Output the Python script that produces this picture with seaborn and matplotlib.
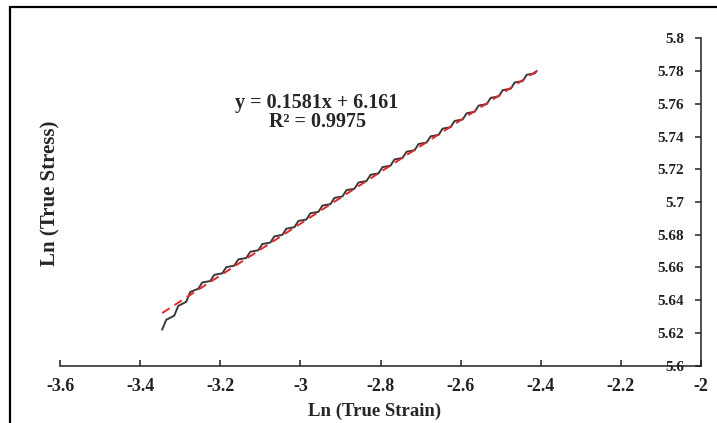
import numpy as np
import pandas as pd
import seaborn as sns
import matplotlib.pyplot as plt
from matplotlib.lines import Line2D

# --- Data (ln true strain vs ln true stress) ---
ln_strain = [
    -3.345, -3.335, -3.315, -3.305, -3.285, -3.275,
    -3.255, -3.245, -3.225, -3.215, -3.195, -3.185, -3.165, -3.155,
    -3.135, -3.125, -3.105, -3.095, -3.075, -3.065, -3.045, -3.035,
    -3.015, -3.005, -2.985, -2.975, -2.955, -2.945, -2.925, -2.915,
    -2.895, -2.885, -2.865, -2.855, -2.835, -2.825, -2.805, -2.795,
    -2.775, -2.765, -2.745, -2.735, -2.715, -2.705, -2.685, -2.675,
    -2.655, -2.645, -2.625, -2.615, -2.595, -2.585, -2.565, -2.555,
    -2.535, -2.525, -2.505, -2.495, -2.475, -2.465, -2.445, -2.435,
    -2.415, -2.410,
]
ln_stress = [
    5.6220, 5.6280, 5.6305, 5.6365, 5.6390, 5.6450,
    5.6470, 5.6508, 5.6517, 5.6555, 5.6564, 5.6602, 5.6611, 5.6649,
    5.6658, 5.6696, 5.6705, 5.6743, 5.6752, 5.6790, 5.6799, 5.6837,
    5.6846, 5.6884, 5.6893, 5.6931, 5.6940, 5.6978, 5.6987, 5.7025,
    5.7034, 5.7072, 5.7081, 5.7119, 5.7128, 5.7166, 5.7175, 5.7213,
    5.7222, 5.7260, 5.7269, 5.7307, 5.7316, 5.7354, 5.7363, 5.7401,
    5.7410, 5.7448, 5.7457, 5.7495, 5.7504, 5.7542, 5.7551, 5.7589,
    5.7598, 5.7636, 5.7645, 5.7683, 5.7692, 5.7730, 5.7739, 5.7777,
    5.7786, 5.7800,
]

# Linear trend line as printed on the chart
slope = 0.1581
intercept = 6.161
r2 = 0.9975

x_ticks = [-3.6, -3.4, -3.2, -3.0, -2.8, -2.6, -2.4, -2.2, -2.0]
x_tick_labels = ["-3.6", "-3.4", "-3.2", "-3", "-2.8", "-2.6", "-2.4", "-2.2", "-2"]
y_ticks = [5.60, 5.62, 5.64, 5.66, 5.68, 5.70, 5.72, 5.74, 5.76, 5.78, 5.80]
y_tick_labels = ["5.6", "5.62", "5.64", "5.66", "5.68", "5.7", "5.72", "5.74", "5.76", "5.78", "5.8"]

df = pd.DataFrame({"strain": ln_strain, "stress": ln_stress})
fit_x = np.array([min(ln_strain), max(ln_strain)])
fit_df = pd.DataFrame({"strain": fit_x, "stress": slope * fit_x + intercept})

# --- Plot ---
sns.set_theme(style="white")
plt.rcParams["font.family"] = ["Liberation Serif", "DejaVu Serif"]
plt.rcParams["font.weight"] = "bold"

fig = plt.figure(figsize=(7.17, 4.23), dpi=100)
ax = fig.add_axes([0.0837, 0.1355, 0.894, 0.774])

sns.lineplot(data=df, x="strain", y="stress", ax=ax, color="#3a3a3a",
             linewidth=1.4, sort=False)
sns.lineplot(data=fit_df, x="strain", y="stress", ax=ax, color="#e3262b",
             linewidth=1.4, linestyle=(0, (4.5, 3)))

ax.set_xlim(-3.6, -2.0)
ax.set_ylim(5.6, 5.8)
ax.set_xticks(x_ticks)
ax.set_xticklabels(x_tick_labels, fontsize=13, fontweight="bold")
ax.set_yticks(y_ticks)
ax.set_yticklabels(y_tick_labels, fontsize=13.5, fontweight="bold")

# y axis sits at x = -2 (right edge), labels on its left
ax.spines["left"].set_position(("data", -2.0))
ax.spines["top"].set_visible(False)
ax.spines["right"].set_visible(False)
for s in ["left", "bottom"]:
    ax.spines[s].set_color("#222222")
    ax.spines[s].set_linewidth(1.1)

ax.tick_params(axis="x", direction="in", length=4, width=1.1, pad=9,
               colors="#222222", bottom=True)
ax.tick_params(axis="y", direction="out", length=4, width=1.1, pad=8,
               colors="#222222", left=True)
ax.set_xlabel("")
ax.set_ylabel("")

fig.text(375 / 717, 1 - 411 / 423, "Ln (True Strain)", ha="center", va="center",
         fontsize=13.5, fontweight="bold")
fig.text(50 / 717, 1 - 193 / 423, "Ln (True Stress)", ha="center", va="center",
         rotation=90, fontsize=15, fontweight="bold")

fig.text(317 / 717, 1 - 103 / 423, f"y = {slope}x + {intercept}", ha="center",
         va="center", fontsize=14.5, fontweight="bold")
fig.text(318 / 717, 1 - 122 / 423, f"R² = {r2}", ha="center",
         va="center", fontsize=14.5, fontweight="bold")

# outer chart-area frame (only left and top edges visible in the crop)
fig.add_artist(Line2D([10 / 717, 10 / 717], [0, 1 - 7 / 423],
                      transform=fig.transFigure, color="black", linewidth=1.6))
fig.add_artist(Line2D([10 / 717, 1], [1 - 7 / 423, 1 - 7 / 423],
                      transform=fig.transFigure, color="black", linewidth=1.6))

fig.savefig("out.png", dpi=100)
